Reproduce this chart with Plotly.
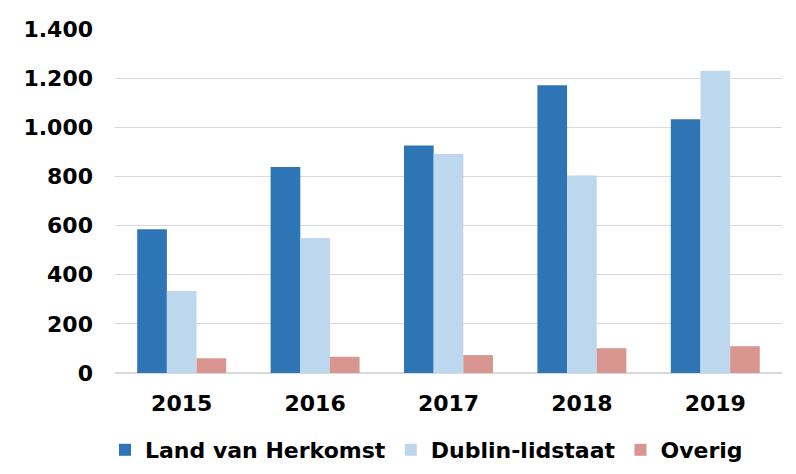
import plotly.graph_objects as go

years = ["2015", "2016", "2017", "2018", "2019"]
land_van_herkomst = [585, 838, 926, 1171, 1033]
dublin_lidstaat = [334, 549, 891, 804, 1230]
overig = [60, 66, 73, 101, 109]
y_tickvals = [0, 200, 400, 600, 800, 1000, 1200, 1400]
y_ticktext = ["0", "200", "400", "600", "800", "1.000", "1.200", "1.400"]

FONT = "DejaVu Sans"
FS = 22
# the page body adds an 8px margin around the figure, so the figure is sized
# to fit inside the 796x474 window without scrollbars
W, H = 780, 458
ML, MR, MT, MB = 107, 6, 21, 93

fig = go.Figure()
fig.add_trace(go.Bar(name="Land van Herkomst", x=years, y=land_van_herkomst,
                     marker=dict(color="#2e75b6", line=dict(width=0))))
fig.add_trace(go.Bar(name="Dublin-lidstaat", x=years, y=dublin_lidstaat,
                     marker=dict(color="#bdd7ee", line=dict(width=0))))
fig.add_trace(go.Bar(name="Overig", x=years, y=overig,
                     marker=dict(color="#d9958f", line=dict(width=0))))

pw = W - ML - MR
ph = H - MT - MB

fig.update_layout(
    template="none",
    width=W, height=H,
    margin=dict(l=ML, r=MR, t=MT, b=MB, autoexpand=False),
    paper_bgcolor="white",
    plot_bgcolor="white",
    barmode="group", bargap=0.333, bargroupgap=0,
    font=dict(family=FONT, size=FS, color="black"),
    showlegend=True,
    legend=dict(orientation="h", x=(97 - ML) / pw, xanchor="left",
                y=(H - MB - 442) / ph, yanchor="middle",
                font=dict(family=FONT, size=FS, color="black", weight="bold"),
                bgcolor="rgba(0,0,0,0)", traceorder="normal"),
    xaxis=dict(showgrid=False, showline=False, zeroline=False, automargin=False,
               tickfont=dict(family=FONT, size=FS, color="black", weight="bold"),
               ticks="", ticklabelstandoff=15),
    yaxis=dict(range=[0, 1400], tickvals=y_tickvals, ticktext=y_ticktext,
               automargin=False,
               showgrid=True, gridcolor="#d9d9d9", gridwidth=1.3,
               zeroline=True, zerolinecolor="#d9d9d9", zerolinewidth=1.5,
               showline=False, ticks="", ticklabelstandoff=21,
               tickfont=dict(family=FONT, size=FS, color="black", weight="bold")),
)

fig.write_html("out.html")
